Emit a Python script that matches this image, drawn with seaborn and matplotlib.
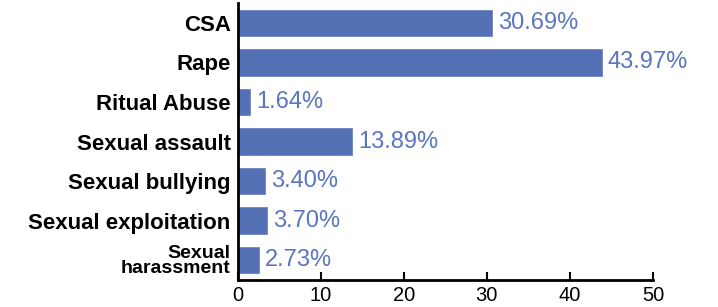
import matplotlib
matplotlib.use('Agg')
import matplotlib.pyplot as plt
import seaborn as sns
import pandas as pd

# Data
categories = ['CSA', 'Rape', 'Ritual Abuse', 'Sexual assault', 'Sexual bullying',
              'Sexual exploitation', 'Sexual\nharassment']
percentages = [30.69, 43.97, 1.64, 13.89, 3.40, 3.70, 2.73]
x_ticks = [0, 10, 20, 30, 40, 50]

df = pd.DataFrame({'category': categories, 'pct': percentages})

sns.set_theme(style='white')
plt.rcParams['font.family'] = ['Liberation Sans', 'DejaVu Sans']

bar_color = '#5571b5'
label_color = '#5a76c0'

fig = plt.figure(figsize=(7.18, 3.07), dpi=100)
ax = fig.add_axes([0.331, 0.088, 0.5785, 0.902])

sns.barplot(data=df, x='pct', y='category', color=bar_color, saturation=1,
            width=0.72, ax=ax)

# Percentage labels at bar ends
for i, v in enumerate(percentages):
    ax.text(v + 0.6, i, f'{v:.2f}%', va='center', ha='left',
            color=label_color, fontsize=17)

ax.set_xlim(0, 50)
ax.set_xticks(x_ticks)
ax.set_xticklabels([str(t) for t in x_ticks], fontsize=14.5)
ax.set_xlabel('')
ax.set_ylabel('')

ax.set_yticks(range(len(categories)))
ylabels = ax.set_yticklabels(categories, fontsize=16, fontweight='bold')
ylabels[-1].set_fontsize(14)
ylabels[-1].set_linespacing(0.85)

for side in ['top', 'right']:
    ax.spines[side].set_visible(False)
for side in ['left', 'bottom']:
    ax.spines[side].set_color('black')
    ax.spines[side].set_linewidth(2)

ax.tick_params(axis='x', which='both', bottom=True, length=6, width=1.5,
               color='black', direction='in', pad=4, labelcolor='black')
ax.tick_params(axis='y', left=False, length=0, pad=5, labelcolor='black')

fig.savefig('out.png', dpi=100)
